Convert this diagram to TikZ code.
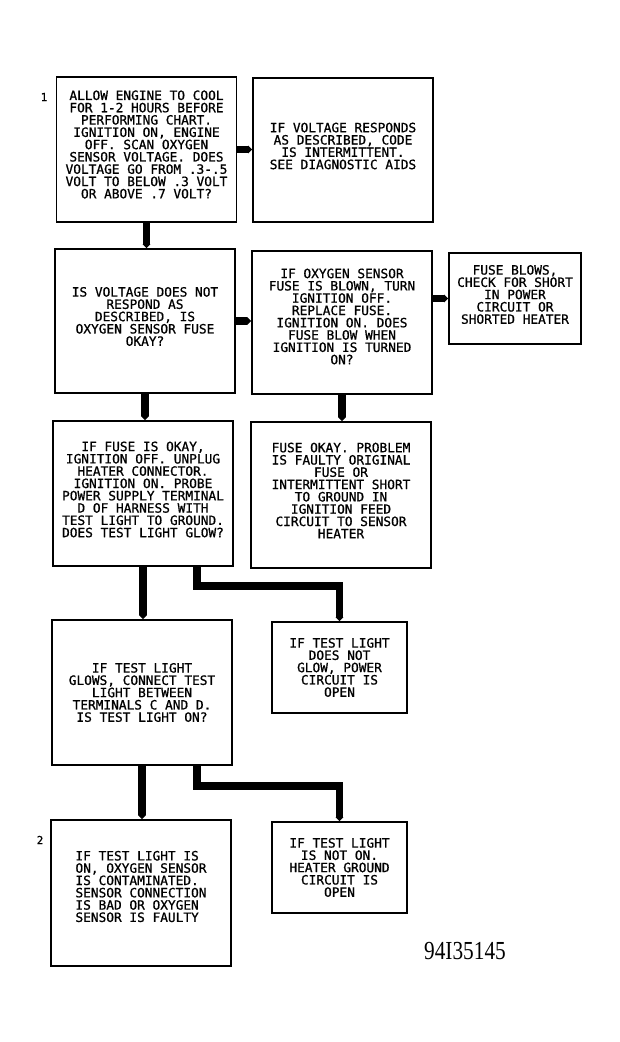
\documentclass[tikz,border=0pt]{standalone}
\usepackage{fontspec}
\newfontfamily\boxfont[FakeBold=0.9]{DejaVu Sans Mono}
\newfontfamily\idfont{Liberation Serif}
\usetikzlibrary{arrows.meta}
\tikzset{
  box/.style={draw, line width=1.6pt, inner sep=0pt},
  bigbox/.style={box, minimum width=180pt, minimum height=145pt},
  smallbox/.style={box, minimum width=134pt, minimum height=91pt},
  txt/.style={inner sep=0pt, align=center,
    font=\boxfont\fontsize{12.8}{12.3}\selectfont},
  conn/.style={line width=7.5pt, line join=miter, -{Triangle[width=7.5pt,length=4pt]}},
  steplabel/.style={font=\boxfont\fontsize{11}{11}\selectfont, inner sep=0pt}
}
\begin{document}
\begin{tikzpicture}[x=1pt,y=-1pt]
\useasboundingbox (0,0) rectangle (619,1042);
\node[bigbox] (A) at (146.5,149.5) {};
\node[txt] (At) at ([yshift=5pt]A.center) {ALLOW ENGINE TO COOL\\FOR 1-2 HOURS BEFORE\\PERFORMING CHART.\\IGNITION ON, ENGINE\\OFF. SCAN OXYGEN\\SENSOR VOLTAGE. DOES\\VOLTAGE GO FROM .3-.5\\VOLT TO BELOW .3 VOLT\\OR ABOVE .7 VOLT?};
\node[bigbox, minimum height=144pt] (B) at (343,150) {};
\node[txt] (Bt) at ([yshift=4pt]B.center) {IF VOLTAGE RESPONDS\\AS DESCRIBED, CODE\\IS INTERMITTENT.\\SEE DIAGNOSTIC AIDS};
\node[bigbox, minimum height=144pt] (C) at (145,321) {};
\node[txt] (Ct) at ([yshift=4.5pt]C.center) {IS VOLTAGE DOES NOT\\RESPOND AS\\DESCRIBED, IS\\OXYGEN SENSOR FUSE\\OKAY?};
\node[bigbox, minimum height=143pt] (D) at (342,322.5) {};
\node[txt] (Dt) at ([yshift=6pt]D.center) {IF OXYGEN SENSOR\\FUSE IS BLOWN, TURN\\IGNITION OFF.\\REPLACE FUSE.\\IGNITION ON. DOES\\FUSE BLOW WHEN\\IGNITION IS TURNED\\ON?};
\node[smallbox, minimum width=132pt] (E) at (515,298.5) {};
\node[txt] (Et) at ([yshift=4pt]E.center) {FUSE BLOWS,\\CHECK FOR SHORT\\IN POWER\\CIRCUIT OR\\SHORTED HEATER};
\node[bigbox] (F) at (143,493.5) {};
\node[txt] (Ft) at ([yshift=4pt]F.center) {IF FUSE IS OKAY,\\IGNITION OFF. UNPLUG\\HEATER CONNECTOR.\\IGNITION ON. PROBE\\POWER SUPPLY TERMINAL\\D OF HARNESS WITH\\TEST LIGHT TO GROUND.\\DOES TEST LIGHT GLOW?};
\node[bigbox, minimum height=146pt] (G) at (341,495) {};
\node[txt] (Gt) at ([yshift=4.5pt]G.center) {FUSE OKAY. PROBLEM\\IS FAULTY ORIGINAL\\FUSE OR\\INTERMITTENT SHORT\\TO GROUND IN\\IGNITION FEED\\CIRCUIT TO SENSOR\\HEATER};
\node[bigbox] (H) at (142,692.5) {};
\node[txt] (Ht) at (H.center) {IF TEST LIGHT\\GLOWS, CONNECT TEST\\LIGHT BETWEEN\\TERMINALS C AND D.\\IS TEST LIGHT ON?};
\node[smallbox, minimum width=135pt] (I) at (339.5,667.5) {};
\node[txt] (It) at (I.center) {IF TEST LIGHT\\DOES NOT\\GLOW, POWER\\CIRCUIT IS\\OPEN};
\node[bigbox, minimum height=146pt] (J) at (141,893) {};
\node[txt, align=left] (Jt) at ([yshift=6.5pt]J.center) {IF TEST LIGHT IS\\ON, OXYGEN SENSOR\\IS CONTAMINATED.\\SENSOR CONNECTION\\IS BAD OR OXYGEN\\SENSOR IS FAULTY};
\node[smallbox, minimum width=135pt] (K) at (339.5,867.5) {};
\node[txt] (Kt) at (K.center) {IF TEST LIGHT\\IS NOT ON.\\HEATER GROUND\\CIRCUIT IS\\OPEN};
\node[steplabel] (n1) at (44,97) {1};
\node[steplabel] (n2) at (40,840) {2};
\node[font=\idfont\fontsize{26}{26}\selectfont, xscale=0.82, inner sep=0pt] (id) at (465,951) {94I35145};
% connectors
\draw[conn] (A.east) -- (A.east -| B.west);
\draw[conn] (A.south) -- (A.south |- C.north);
\draw[conn] (C.east) -- (C.east -| D.west);
\draw[conn] (E.west -| D.east) -- (E.west);
\draw[conn] (C.south) -- (C.south |- F.north);
\draw[conn] (D.south) -- (D.south |- G.north);
\draw[conn] (F.south) -- (F.south |- H.north);
\draw[conn] ([xshift=54pt]F.south) -- ++(0,19) -| (I.north);
\draw[conn] (H.south) -- (H.south |- J.north);
\draw[conn] ([xshift=55pt]H.south) -- ++(0,20) -| (K.north);
\end{tikzpicture}
\end{document}
